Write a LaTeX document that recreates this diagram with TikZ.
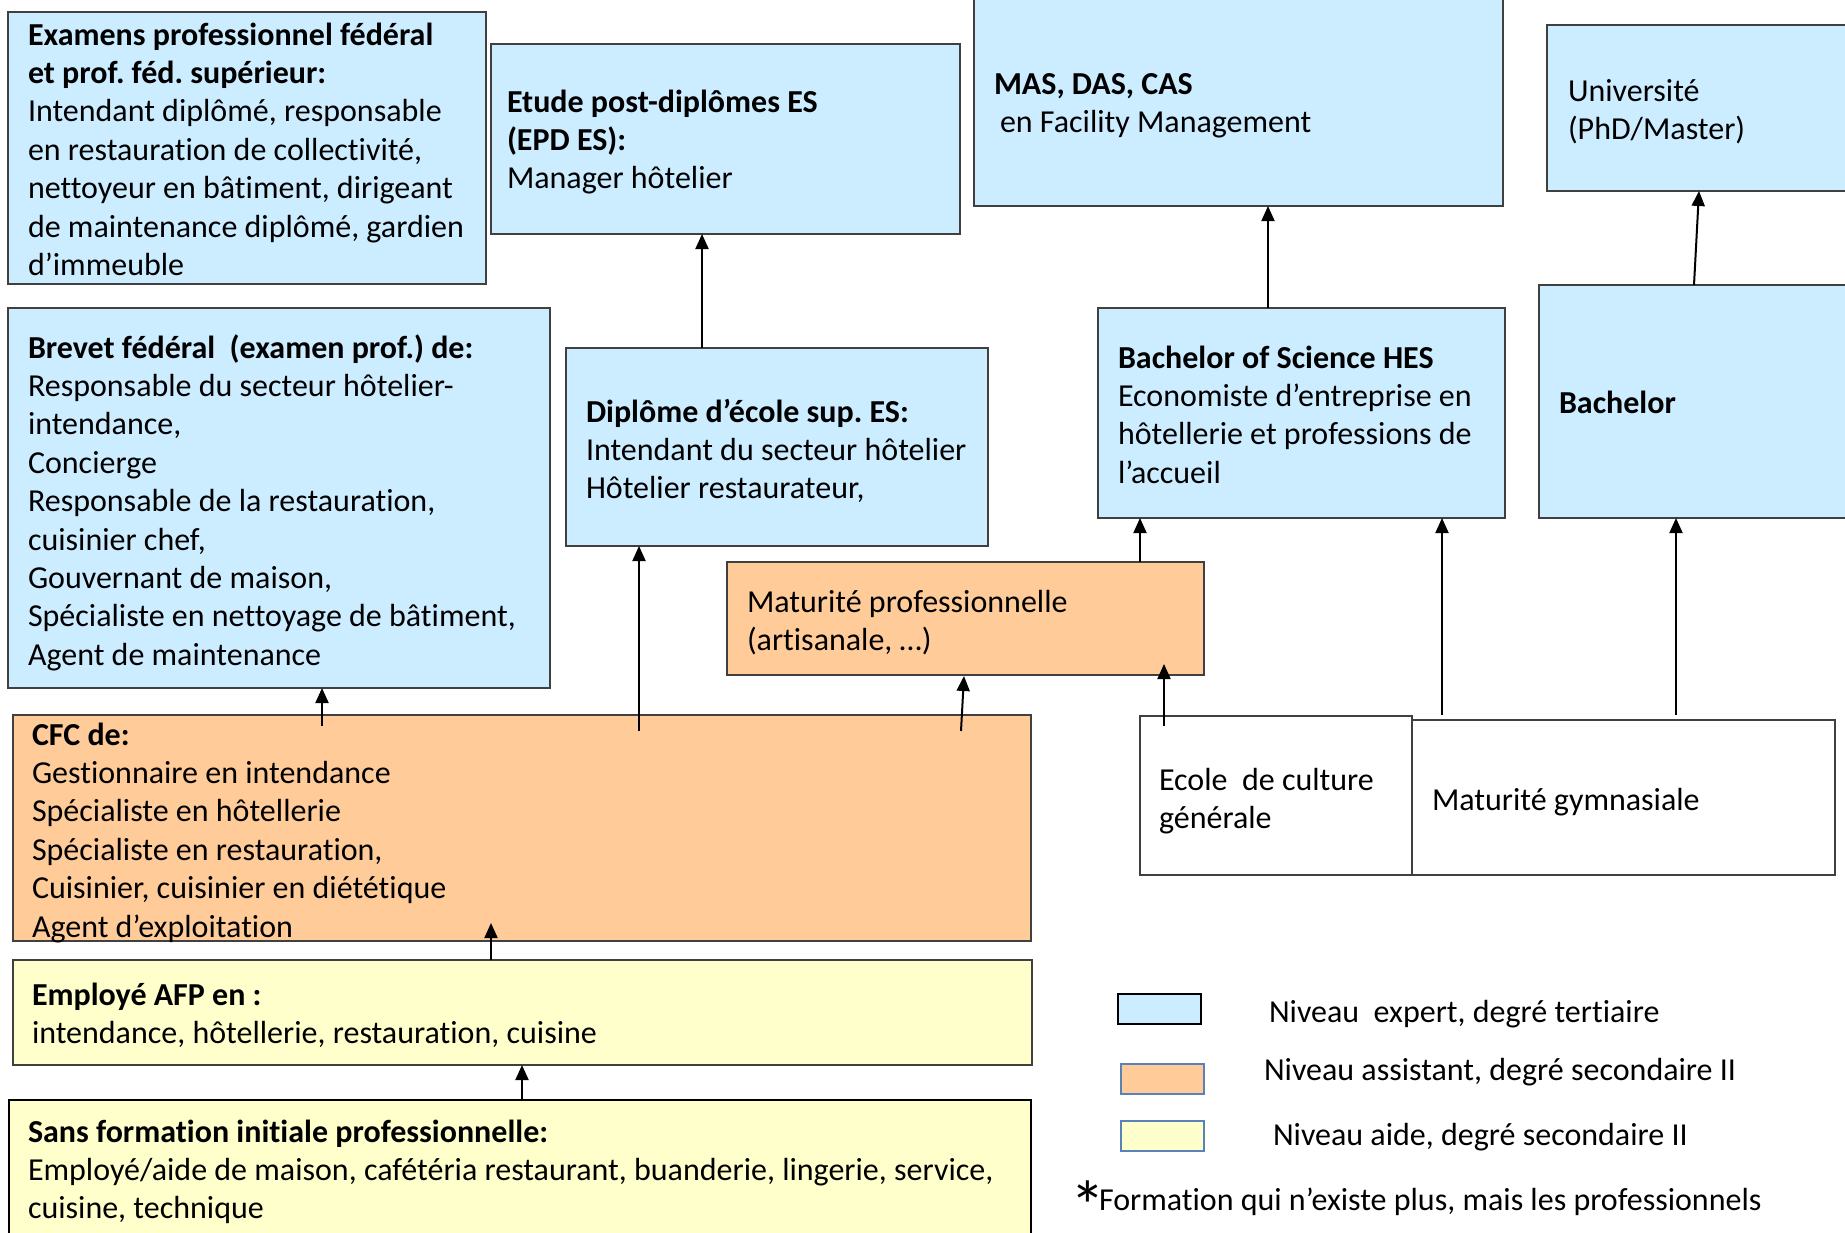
\documentclass[tikz,border=0pt]{standalone}
\usepackage{fontspec}
\setmainfont{Carlito}[Ligatures=NoCommon]
\usetikzlibrary{arrows.meta}
\frenchspacing
\definecolor{bluefill}{HTML}{CCECFF}
\definecolor{orangefill}{HTML}{FFCC99}
\definecolor{yellowfill}{HTML}{FFFFCC}
\definecolor{edgegray}{HTML}{404040}
\definecolor{legedge}{HTML}{5B82B8}
\newcommand\mainsz{\fontsize{32pt}{38.4pt}\selectfont}
\newcommand\fstrut{\rule{0pt}{32pt}}
\begin{document}
\begin{tikzpicture}[x=1pt,y=-1pt,
  box/.style={draw=edgegray, line width=1.2pt, anchor=north west, inner sep=0pt, outer sep=0pt},
  bluebox/.style={box, fill=bluefill},
  orangebox/.style={box, fill=orangefill},
  yellowbox/.style={box, fill=yellowfill},
  whitebox/.style={box, fill=white},
  txt/.style={anchor=north west, inner sep=0pt, outer sep=0pt, align=left, font=\mainsz\frenchspacing},
  arr/.style={line width=2pt, -{Triangle[length=15pt,width=13pt]}}]

\useasboundingbox (0,0) rectangle (1845,1232);
\fill[white] (0,0) rectangle (1845,1232);

% ---------- boxes ----------
\node[bluebox, minimum width=478pt, minimum height=272pt] (exam) at (8,12) {};
\node[bluebox, minimum width=469pt, minimum height=190pt] (etude) at (491,44) {};
\node[bluebox, minimum width=529pt, minimum height=209pt] (mas) at (974,-3) {};
\node[bluebox, minimum width=303pt, minimum height=166pt] (univ) at (1547,25) {};
\node[bluebox, minimum width=542pt, minimum height=380pt] (brevet) at (8,308) {};
\node[bluebox, minimum width=422pt, minimum height=198pt] (dipl) at (566,348) {};
\node[bluebox, minimum width=407pt, minimum height=210pt] (bhes) at (1098,308) {};
\node[bluebox, minimum width=311pt, minimum height=233pt] (bach) at (1539,285) {};
\node[orangebox, minimum width=477pt, minimum height=113pt] (matp) at (727,562) {};
\node[orangebox, minimum width=1018pt, minimum height=226pt] (cfc) at (13,715) {};
\node[whitebox, minimum width=272pt, minimum height=159pt] (ecole) at (1140,716) {};
\node[whitebox, minimum width=423pt, minimum height=155pt] (matg) at (1412,720) {};
\node[yellowbox, minimum width=1019pt, minimum height=105pt] (afp) at (13,960) {};
\node[yellowbox, draw=black, line width=2.6pt, minimum width=1022pt, minimum height=140pt] (sans) at (9,1100) {};

% legend boxes
\node[bluebox, draw=black, minimum width=83pt, minimum height=30pt] (leg1) at (1118,994) {};
\node[orangebox, draw=legedge, minimum width=83pt, minimum height=30pt] (leg2) at (1121,1064) {};
\node[yellowbox, draw=legedge, minimum width=83pt, minimum height=30pt] (leg3) at (1121,1121) {};

% ---------- texts ----------
\node[txt] (texam) at (28,13) {\fstrut\textbf{Examens professionnel fédéral}\\
  \textbf{et prof. féd. supérieur:}\\
  Intendant diplômé, responsable\\
  en restauration de collectivité,\\
  nettoyeur en bâtiment, dirigeant\\
  de maintenance diplômé, gardien\\
  d’immeuble};
\node[txt] (tetude) at (507,80) {\fstrut\textbf{Etude post-diplômes ES}\\
  \textbf{(EPD ES):}\\
  Manager hôtelier};
\node[txt] (tmas) at (994,62) {\fstrut\textbf{MAS, DAS, CAS}\\
  \hspace*{6pt}en Facility Management};
\node[txt] (tuniv) at (1568,69) {\fstrut Université\\
  (PhD/Master)};
\node[txt] (tbrevet) at (28,326) {\fstrut\textbf{Brevet fédéral\ \ (examen prof.) de:}\\
  Responsable du secteur hôtelier-\\
  intendance,\\
  Concierge\\
  Responsable de la restauration,\\
  cuisinier chef,\\
  Gouvernant de maison,\\
  Spécialiste en nettoyage de bâtiment,\\
  Agent de maintenance};
\node[txt] (tdipl) at (586,390) {\fstrut\textbf{Diplôme d’école sup. ES:}\\
  Intendant du secteur hôtelier\\
  Hôtelier restaurateur,};
\node[txt] (tbhes) at (1118,336) {\fstrut\textbf{Bachelor of Science HES}\\
  Economiste d’entreprise en\\
  hôtellerie et professions de\\
  l’accueil};
\node[txt] (tbach) at (1559,381) {\fstrut\textbf{Bachelor}};
\node[txt] (tmatp) at (747,580) {\fstrut Maturité professionnelle\\
  (artisanale, …)};
\node[txt] (tcfc) at (32,713) {\fstrut\textbf{CFC de:}\\
  Gestionnaire en intendance\\
  Spécialiste en hôtellerie\\
  Spécialiste en restauration,\\
  Cuisinier, cuisinier en diététique\\
  Agent d’exploitation};
\node[txt] (tecole) at (1159,758) {\fstrut Ecole\ \ de culture\\
  générale};
\node[txt] (tmatg) at (1432,778) {\fstrut Maturité gymnasiale};
\node[txt] (tafp) at (32,973) {\fstrut\textbf{Employé AFP en :}\\
  intendance, hôtellerie, restauration, cuisine};
\node[txt] (tsans) at (28,1110) {\fstrut\textbf{Sans formation initiale professionnelle:}\\
  Employé/aide de maison, cafétéria restaurant, buanderie, lingerie, service,\\
  cuisine, technique};

% legend texts
\node[txt] (tleg1) at (1269,990) {\fstrut Niveau\ \ expert, degré tertiaire};
\node[txt] (tleg2) at (1264,1048) {\fstrut Niveau assistant, degré secondaire II};
\node[txt] (tleg3) at (1273,1113) {\fstrut Niveau aide, degré secondaire II};
\node[txt] (tnote) at (1070,1178) {\fstrut\makebox[29pt][l]{\smash{\raisebox{-20pt}{\fontsize{70pt}{70pt}\selectfont *}}}Formation qui n’existe plus, mais les professionnels};

% ---------- arrows ----------
\coordinate (f1) at (322,726);
\draw[arr] (f1) -- (f1 |- brevet.south);
\coordinate (f2) at (639,731);
\draw[arr] (f2) -- (f2 |- dipl.south);
\coordinate (f3) at (961,731);
\coordinate (e3) at (964,676);
\draw[arr] (f3) -- (e3);
\coordinate (f4) at (702,348);
\draw[arr] (f4) -- (f4 |- etude.south);
\coordinate (f5) at (491,960);
\coordinate (e5) at (491,923);
\draw[arr] (f5) -- (e5);
\coordinate (f6) at (522,1100);
\draw[arr] (f6) -- (f6 |- afp.south);
\coordinate (f7) at (1140,562);
\draw[arr] (f7) -- (f7 |- bhes.south);
\coordinate (f8) at (1164,726);
\coordinate (e8) at (1164,664);
\draw[arr] (f8) -- (e8);
\coordinate (f9) at (1442,715);
\draw[arr] (f9) -- (f9 |- bhes.south);
\coordinate (f10) at (1676,715);
\draw[arr] (f10) -- (f10 |- bach.south);
\coordinate (f11) at (1268,308);
\draw[arr] (f11) -- (f11 |- mas.south);
\coordinate (f12) at (1694,285);
\coordinate (e12) at (1699,191);
\draw[arr] (f12) -- (e12);
\end{tikzpicture}
\end{document}
